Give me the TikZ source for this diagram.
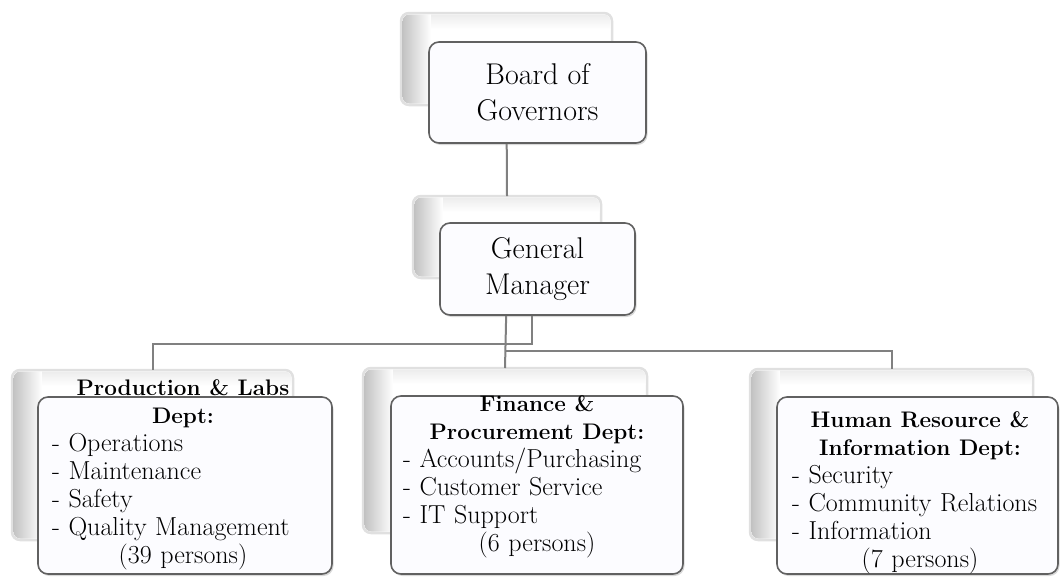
\documentclass[tikz,border=0pt]{standalone}
\usetikzlibrary{shadows}
% intestazione di reparto, centrata
\newcommand{\depthead}[1]{\makebox[\hsize]{\fontsize{22.5}{28}\selectfont\bfseries #1}}
\begin{document}
\begin{tikzpicture}[x=1pt,y=-1pt,
    backbox/.style={draw=black!12,line width=2.5pt,fill=white,rounded corners=8pt,inner sep=0pt,outer sep=0pt,anchor=north west},
    frontbox/.style={draw=black!62,line width=1.6pt,fill=blue!1,rounded corners=10pt,inner sep=0pt,outer sep=0pt,anchor=north west,drop shadow={opacity=0.3,shadow xshift=1.5pt,shadow yshift=-2pt}},
    link/.style={draw=black!50,line width=2pt},
    titletext/.style={font=\fontsize{30}{36}\selectfont,align=center},
    depttext/.style={font=\fontsize{26}{28}\selectfont,align=left,inner sep=0pt}]
        \useasboundingbox (0,0) rectangle (1060,576);
        %caselle dietro
        \node[backbox,minimum width=211,minimum height=92] (bogback) at (401,13) {};
        \node[backbox,minimum width=188,minimum height=82] (gmback) at (413,196) {};
        \node[backbox,minimum width=281,minimum height=170] (prodback) at (12,370) {};
        \node[backbox,minimum width=284,minimum height=165] (finback) at (363,368) {};
        \node[backbox,minimum width=283,minimum height=171] (hrback) at (750,369) {};
        %sfumatura a sinistra
        \foreach \b in {bogback,gmback,prodback,finback,hrback} {
            \begin{scope}
                \clip[rounded corners=7pt] ([shift={(1.5pt,-1.5pt)}]\b.north west) rectangle ([shift={(-1.5pt,1.5pt)}]\b.south east);
                \shade[left color=black!25,right color=white] (\b.north west) rectangle ([xshift=30pt]\b.south west);
                \shade[top color=black!8,bottom color=white] ([xshift=30pt]\b.north west) rectangle ([yshift=-16pt]\b.north east);
            \end{scope}
        }
        %collegamenti
        \draw[link] (bogback.south) -- (gmback.north);
        \draw[link] (gmback.south) -- (finback.north);
        \draw[link] ([xshift=25pt]gmback.south) |- ([yshift=26pt]prodback.north) -- (prodback.north);
        \draw[link] ([yshift=17pt]finback.north) -| (hrback.north);
        %caselle davanti
        \node[frontbox,titletext,minimum width=217,minimum height=101] (bog) at (429,42) {Board of\\Governors};
        \node[frontbox,titletext,minimum width=195,minimum height=92] (gm) at (440,223) {General\\Manager};
        \node[frontbox,minimum width=294,minimum height=177] (prod) at (38,397) {};
        \node[frontbox,minimum width=292,minimum height=178] (fin) at (391,396) {};
        \node[frontbox,minimum width=281,minimum height=177] (hr) at (777,397) {};
        %testi dei reparti
        \node[depttext,text width=262pt] (prodtext) at (183,475) {\depthead{Production \& Labs}\\\depthead{Dept:}\\- Operations\\- Maintenance\\- Safety\\- Quality Management\\\makebox[\hsize]{(39 persons)}};
        \node[depttext,text width=268pt] (fintext) at (537,477) {\depthead{Finance \&}\\\depthead{Procurement Dept:}\\- Accounts/Purchasing\\- Customer Service\\- IT Support\\\makebox[\hsize]{(6 persons)}};
        \node[depttext,text width=256pt] (hrtext) at (920,493) {\depthead{Human Resource \&}\\\depthead{Information Dept:}\\- Security\\- Community Relations\\- Information\\\makebox[\hsize]{(7 persons)}};
    \end{tikzpicture}
\end{document}
